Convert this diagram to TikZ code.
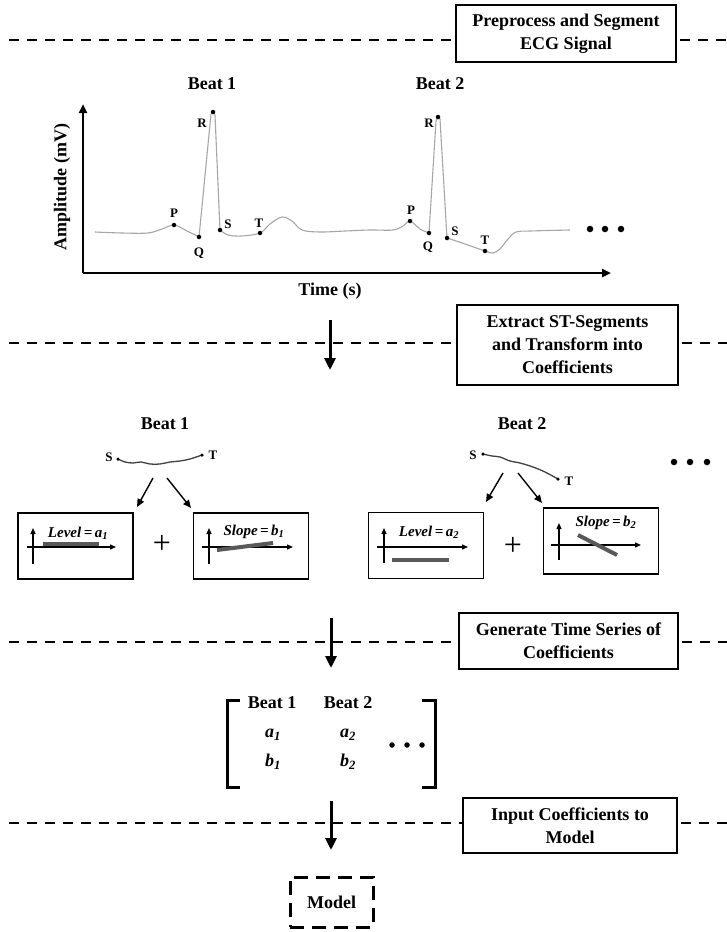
\documentclass[tikz,border=0pt]{standalone}
\usepackage{fontspec}
\setmainfont{Liberation Serif}
\usetikzlibrary{arrows.meta}

\newcommand\stagefont{\bfseries\fontsize{18}{23}\selectfont}
\newcommand\beatfont{\bfseries\fontsize{18}{22}\selectfont}
\newcommand\ptfont{\bfseries\fontsize{13}{15}\selectfont}
\newcommand\coeffont{\bfseries\itshape\fontsize{15}{17}\selectfont}
\newcommand\entryfont{\bfseries\itshape\fontsize{18}{22}\selectfont}

\begin{document}
\begin{tikzpicture}[x=1pt,y=-1pt,
  separator/.style={line width=2.6pt, dash pattern=on 10pt off 8pt},
  stage/.style={draw, line width=2.4pt, fill=white, align=center, font=\stagefont, inner sep=0pt},
  flow/.style={line width=3pt, -{Triangle[length=12pt,width=11pt]}},
  axis/.style={line width=2.6pt, -{Triangle[length=9pt,width=8pt]}},
  ecg/.style={gray!70, line width=1.1pt, line join=round},
  wave/.style={circle, fill=black, inner sep=0pt, minimum size=4.5pt},
  wavelbl/.style={font=\ptfont, inner sep=0pt},
  beatlbl/.style={font=\beatfont, inner sep=0pt},
  panel/.style={draw, line width=1.6pt, inner sep=0pt, minimum width=115pt, minimum height=66pt},
  paxis/.style={line width=1.3pt, -{Triangle[length=6pt,width=5pt]}},
  bar/.style={line width=4pt, black!65},
  stseg/.style={black!75, line width=1.3pt},
  split/.style={line width=1.4pt, -{Triangle[length=8pt,width=7pt]}},
  more/.style={circle, fill=black, inner sep=0pt, minimum size=6.5pt},
  bracket/.style={line width=3pt},
  coef/.style={font=\coeffont, inner sep=0pt},
  entry/.style={font=\entryfont, inner sep=0pt},
]

\useasboundingbox (0,0) rectangle (727,932);

% ---------- stage boxes and separators ----------
\node[stage, minimum width=220pt, minimum height=57pt] (stage1) at (566,33.5)
  {Preprocess and Segment\\ECG Signal};
\node[stage, minimum width=221pt, minimum height=80pt] (stage2) at (567.5,345)
  {Extract ST-Segments\\and Transform into\\Coefficients};
\node[stage, minimum width=219pt, minimum height=56pt] (stage3) at (568.5,641)
  {Generate Time Series of\\Coefficients};
\node[stage, minimum width=214pt, minimum height=55pt] (stage4) at (570,825.5)
  {Input Coefficients to\\Model};

\coordinate (sep1w) at (9,40);  \coordinate (sep1e) at (727,40);
\coordinate (sep2w) at (9,343); \coordinate (sep2e) at (727,343);
\coordinate (sep3w) at (9,642); \coordinate (sep3e) at (727,642);
\coordinate (sep4w) at (9,823); \coordinate (sep4e) at (727,823);

\draw[separator] (sep1w) -- (stage1.west |- sep1w);
\draw[separator] (stage1.east |- sep1e) ++(3,0) -- (sep1e);
\draw[separator] (sep2w) -- (stage2.west |- sep2w);
\draw[separator] (stage2.east |- sep2e) ++(3,0) -- (sep2e);
\draw[separator] (sep3w) -- (stage3.west |- sep3w);
\draw[separator] (stage3.east |- sep3e) ++(3,0) -- (sep3e);
\draw[separator] (sep4w) -- (stage4.west |- sep4w);
\draw[separator] (stage4.east |- sep4e) ++(3,0) -- (sep4e);

% ---------- ECG signal ----------
\node[beatlbl] (ecgbeat1) at (212,84) {Beat 1};
\node[beatlbl] (ecgbeat2) at (440,84) {Beat 2};

\coordinate (origin) at (83,273);
\coordinate (ytop) at (83,104);
\coordinate (xend) at (611,273);
\draw[axis] (origin) -- (ytop);
\draw[axis] (origin) -- (xend);
\node[beatlbl, rotate=90] (ylabel) at (62,187) {Amplitude (mV)};
\node[beatlbl] (xlabel) at (330,291) {Time (s)};

\draw[ecg] plot[smooth, tension=0.55] coordinates
  {(95,232) (122,233) (148,233) (162,229) (174,225) (187,231) (199,237)};
\draw[ecg] (199,237) -- (211,114) -- (213,111) -- (215,115) -- (220,230);
\draw[ecg] plot[smooth, tension=0.55] coordinates
  {(220,230) (228,235) (242,236) (260,233) (270,224) (282,217) (292,221)
   (302,230) (320,232) (345,231) (370,230) (393,230) (403,226) (410,221)
   (420,229) (429,233)};
\draw[ecg] (429,233) -- (436,121) -- (438,116) -- (440,119) -- (447,238);
\draw[ecg] plot[smooth, tension=0.55] coordinates
  {(447,238) (465,244) (485,251) (493,253) (500,249) (508,239) (516,232)
   (530,231) (570,230)};

\node[wave] (p1) at (174,225) {};
\node[wave] (q1) at (199,237) {};
\node[wave] (r1) at (213,112) {};
\node[wave] (s1) at (220,230) {};
\node[wave] (t1) at (260,233) {};
\node[wave] (p2) at (410,221) {};
\node[wave] (q2) at (429,233) {};
\node[wave] (r2) at (438,117) {};
\node[wave] (s2) at (447,238) {};
\node[wave] (t2) at (485,251) {};

\node[wavelbl] at (174,213) {P};
\node[wavelbl] at (199,253) {Q};
\node[wavelbl] at (202,123) {R};
\node[wavelbl] at (228,224) {S};
\node[wavelbl] at (259,223) {T};
\node[wavelbl] at (411,210) {P};
\node[wavelbl] at (428,247) {Q};
\node[wavelbl] at (429,123) {R};
\node[wavelbl] at (455,231) {S};
\node[wavelbl] at (485,240) {T};

\node[more] (ecgdot1) at (590,229) {};
\node[more] (ecgdot2) at (605,229) {};
\node[more] (ecgdot3) at (621,229) {};

\coordinate (f1a) at (330,320); \coordinate (f1b) at (330,370);
\draw[flow] (f1a) -- (f1b);

% ---------- ST segments and their coefficients ----------
\node[beatlbl] (stbeat1) at (165,424) {Beat 1};
\node[beatlbl] (stbeat2) at (522,424) {Beat 2};

% beat 1 segment
\draw[stseg] plot[smooth, tension=0.6] coordinates
  {(118,459) (125,462) (133,463) (141,462) (150,464) (160,464) (170,462)
   (180,461) (190,459) (202,455)};
\node[wave, minimum size=3.5pt] (st1s) at (118,459) {};
\node[wave, minimum size=3.5pt] (st1t) at (202,455) {};
\node[wavelbl] at (109,457) {S};
\node[wavelbl] at (213,455) {T};

% beat 2 segment
\draw[stseg] plot[smooth, tension=0.6] coordinates
  {(483,454) (492,456) (500,457) (510,461) (520,463) (533,467) (545,472)
   (558,479)};
\node[wave, minimum size=3.5pt] (st2s) at (483,454) {};
\node[wave, minimum size=3.5pt] (st2t) at (558,479) {};
\node[wavelbl] at (473,455) {S};
\node[wavelbl] at (569,481) {T};

% coefficient panels
\node[panel] (lev1) at (75.5,546) {};
\node[panel] (slo1) at (251,546) {};
\node[panel] (lev2) at (426,545.5) {};
\node[panel] (slo2) at (601,541) {};

\coordinate (b1a) at (153,478); \coordinate (b1b) at (167,478);
\coordinate (b2a) at (503,473); \coordinate (b2b) at (518,473);
\draw[split] (b1a) -- (137,507);
\draw[split] (b1b) -- (191,508);
\draw[split] (b2a) -- (486,502);
\draw[split] (b2b) -- (542,503);

% level, beat 1
\draw[paxis] (33,564) -- (33,528);
\draw[paxis] (27,547) -- (116,547);
\draw[bar] (43,543.5) -- (99,543.5);
\node[coef] at (78,533) {Level\,=\,a\textsubscript{1}};

% slope, beat 1
\draw[paxis] (209,564) -- (209,528);
\draw[paxis] (202,547) -- (293,547);
\draw[bar] (217,550) -- (273,543);
\node[coef] at (254,532) {Slope\,=\,b\textsubscript{1}};

% level, beat 2
\draw[paxis] (384,563) -- (384,528);
\draw[paxis] (377,547) -- (468,547);
\draw[bar] (392,560) -- (449,560);
\node[coef] at (429,532) {Level\,=\,a\textsubscript{2}};

% slope, beat 2
\draw[paxis] (559,560) -- (559,523);
\draw[paxis] (551,545) -- (641,545);
\draw[bar] (578,535) -- (617,555);
\node[coef] at (606,523) {Slope\,=\,b\textsubscript{2}};

\node[font=\fontsize{32}{32}\selectfont, inner sep=0pt] (plus1) at (162,544) {+};
\node[font=\fontsize{32}{32}\selectfont, inner sep=0pt] (plus2) at (513,546) {+};

\node[more] (stdot1) at (674,462) {};
\node[more] (stdot2) at (690,462) {};
\node[more] (stdot3) at (707,462) {};

\coordinate (f2a) at (331,618); \coordinate (f2b) at (331,668);
\draw[flow] (f2a) -- (f2b);

% ---------- time series of coefficients ----------
\draw[bracket] (240,700) -- (227,700) -- (227,787) -- (240,787);
\draw[bracket] (422,700) -- (435,700) -- (435,787) -- (422,787);
\node[beatlbl] (mbeat1) at (272,703) {Beat 1};
\node[beatlbl] (mbeat2) at (348,703) {Beat 2};
\node[entry] (ma1) at (273,735) {a\textsubscript{1}};
\node[entry] (ma2) at (348,735) {a\textsubscript{2}};
\node[entry] (mb1) at (273,762) {b\textsubscript{1}};
\node[entry] (mb2) at (348,762) {b\textsubscript{2}};
\node[more, minimum size=5.5pt] (mdot1) at (392,745) {};
\node[more, minimum size=5.5pt] (mdot2) at (407,745) {};
\node[more, minimum size=5.5pt] (mdot3) at (422,745) {};

\coordinate (f3a) at (331,801); \coordinate (f3b) at (331,850);
\draw[flow] (f3a) -- (f3b);

% ---------- model ----------
\node[draw, line width=3pt, dash pattern=on 14pt off 8pt, minimum width=83pt,
      minimum height=50pt, inner sep=0pt, font=\beatfont] (model) at (331.5,902) {Model};

\end{tikzpicture}
\end{document}
